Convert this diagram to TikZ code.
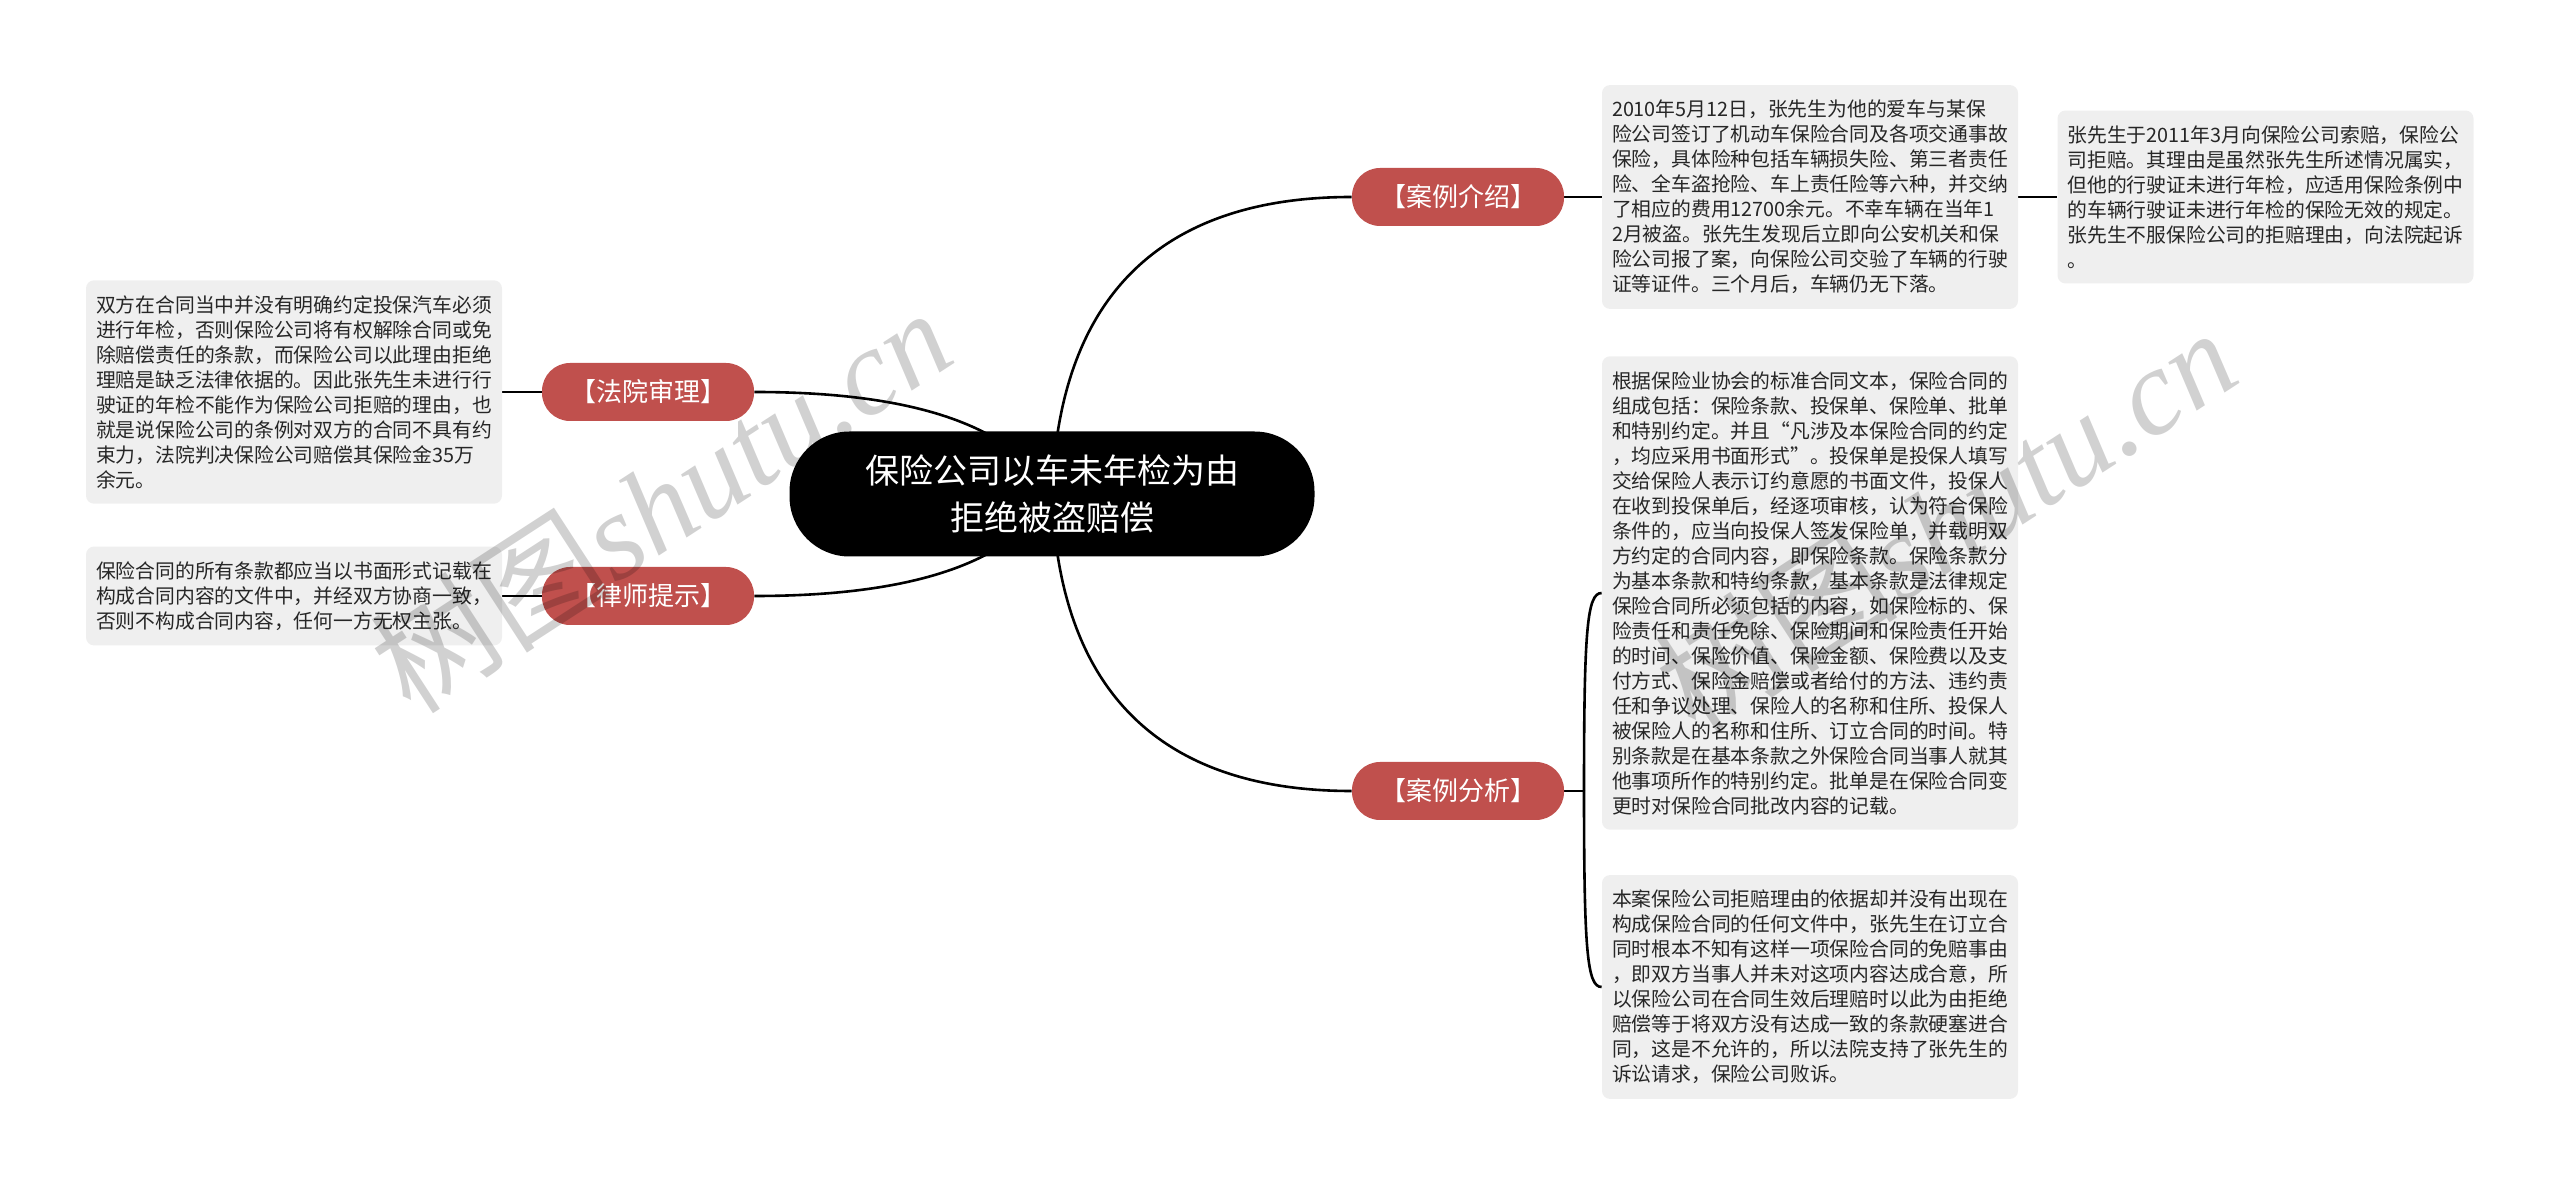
\documentclass[tikz,border=0pt]{standalone}
\usepackage{fontspec}
\setmainfont{Noto Sans CJK SC}
\newfontfamily\wmfont{Liberation Serif}
\usetikzlibrary{backgrounds}
\definecolor{branchred}{RGB}{192,80,77}
\definecolor{boxgray}{RGB}{239,239,239}
\begin{document}
\begin{tikzpicture}[x=0.5pt,y=-0.5pt,
    root/.style={fill=black,text=white,rounded corners=30pt,minimum width=262.5pt,
        minimum height=62.5pt,align=center,font=\fontsize{17pt}{23.5pt}\selectfont},
    branch/.style={fill=branchred,text=white,rounded corners=14pt,minimum width=106pt,
        minimum height=29pt,inner sep=0pt,font=\fontsize{13pt}{15pt}\selectfont},
    textbox/.style={fill=boxgray,text=black!85,rounded corners=4pt,text width=198pt,
        align=left,inner xsep=5pt,inner ysep=7.5pt,font=\fontsize{9.9pt}{12.5pt}\selectfont},
    link/.style={draw=black,line width=1.3pt},
    stamp/.style={text=black,opacity=0.18,rotate=33,inner sep=0pt,
        font=\fontsize{61pt}{61pt}\selectfont}]
    \useasboundingbox (0,0) rectangle (2560,1186);
    % centre
    \node[root] (root) at (1052,494) {保险公司以车未年检为由\\拒绝被盗赔偿};
    % right hand
    \node[branch] (intro) at (1458,197) {【案例介绍】};
    \node[branch] (analysis) at (1458,791) {【案例分析】};
    \node[textbox] (introtext) at (1810,197) {2010年5月12日，张先生为他的爱车与某保\\
        险公司签订了机动车保险合同及各项交通事故\\
        保险，具体险种包括车辆损失险、第三者责任\\
        险、全车盗抢险、车上责任险等六种，并交纳\\
        了相应的费用12700余元。不幸车辆在当年1\\
        2月被盗。张先生发现后立即向公安机关和保\\
        险公司报了案，向保险公司交验了车辆的行驶\\
        证等证件。三个月后，车辆仍无下落。};
    \node[textbox] (claimtext) at (2265.5,197) {张先生于2011年3月向保险公司索赔，保险公\\
        司拒赔。其理由是虽然张先生所述情况属实，\\
        但他的行驶证未进行年检，应适用保险条例中\\
        的车辆行驶证未进行年检的保险无效的规定。\\
        张先生不服保险公司的拒赔理由，向法院起诉\\
        。};
    \node[textbox] (clausetext) at (1810,593) {根据保险业协会的标准合同文本，保险合同的\\
        组成包括：保险条款、投保单、保险单、批单\\
        和特别约定。并且“凡涉及本保险合同的约定\\
        ，均应采用书面形式”。投保单是投保人填写\\
        交给保险人表示订约意愿的书面文件，投保人\\
        在收到投保单后，经逐项审核，认为符合保险\\
        条件的，应当向投保人签发保险单，并载明双\\
        方约定的合同内容，即保险条款。保险条款分\\
        为基本条款和特约条款，基本条款是法律规定\\
        保险合同所必须包括的内容，如保险标的、保\\
        险责任和责任免除、保险期间和保险责任开始\\
        的时间、保险价值、保险金额、保险费以及支\\
        付方式、保险金赔偿或者给付的方法、违约责\\
        任和争议处理、保险人的名称和住所、投保人\\
        被保险人的名称和住所、订立合同的时间。特\\
        别条款是在基本条款之外保险合同当事人就其\\
        他事项所作的特别约定。批单是在保险合同变\\
        更时对保险合同批改内容的记载。};
    \node[textbox] (verdicttext) at (1810,987) {本案保险公司拒赔理由的依据却并没有出现在\\
        构成保险合同的任何文件中，张先生在订立合\\
        同时根本不知有这样一项保险合同的免赔事由\\
        ，即双方当事人并未对这项内容达成合意，所\\
        以保险公司在合同生效后理赔时以此为由拒绝\\
        赔偿等于将双方没有达成一致的条款硬塞进合\\
        同，这是不允许的，所以法院支持了张先生的\\
        诉讼请求，保险公司败诉。};
    \coordinate (fork) at (1584,791);
    % left hand
    \node[branch] (court) at (648,392) {【法院审理】};
    \node[branch] (lawyer) at (648,596) {【律师提示】};
    \node[textbox] (courttext) at (294,392) {双方在合同当中并没有明确约定投保汽车必须\\
        进行年检，否则保险公司将有权解除合同或免\\
        除赔偿责任的条款，而保险公司以此理由拒绝\\
        理赔是缺乏法律依据的。因此张先生未进行行\\
        驶证的年检不能作为保险公司拒赔的理由，也\\
        就是说保险公司的条例对双方的合同不具有约\\
        束力，法院判决保险公司赔偿其保险金35万\\
        余元。};
    \node[textbox] (lawyertext) at (294,596) {保险合同的所有条款都应当以书面形式记载在\\
        构成合同内容的文件中，并经双方协商一致，\\
        否则不构成合同内容，任何一方无权主张。};
    % connectors
    \begin{pgfonlayer}{background}
    \draw[link] (root.center) .. controls (1060,260) and (1200,197) .. (intro.west);
    \draw[link] (root.center) .. controls (1060,728) and (1200,791) .. (analysis.west);
    \draw[link] (court.east) .. controls (900,392) and (1010,420) .. (root.center);
    \draw[link] (lawyer.east) .. controls (900,596) and (1010,568) .. (root.center);
    \draw[link] (intro.east) -- (introtext.west);
    \draw[link] (introtext.east) -- (claimtext.west);
    \draw[link] (analysis.east) -- (fork);
    \draw[link] (fork) .. controls (1584,630) and (1587,593) .. (clausetext.west);
    \draw[link] (fork) .. controls (1584,950) and (1587,987) .. (verdicttext.west);
    \draw[link] (court.west) -- (courttext.east);
    \draw[link] (lawyer.west) -- (lawyertext.east);
    \end{pgfonlayer}
    % watermark
    \node[stamp] (stampleft) at (660,500) {树图\wmfont\itshape shutu.cn};
    \node[stamp] (stampright) at (1945,520) {树图\wmfont\itshape shutu.cn};
\end{tikzpicture}
\end{document}
